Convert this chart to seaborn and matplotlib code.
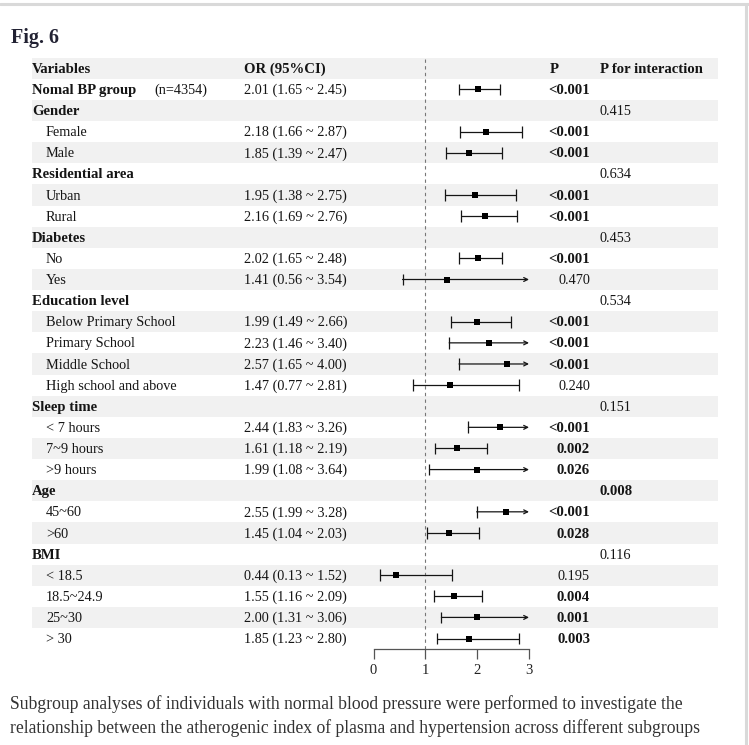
import numpy as np
import matplotlib
matplotlib.use("Agg")
import matplotlib.pyplot as plt
import matplotlib.transforms as mtransforms
from matplotlib.lines import Line2D
import seaborn as sns

# ---- data ----
row_labels = [
    "Nomal BP group", "Gender", "Female", "Male", "Residential area", "Urban", "Rural",
    "Diabetes", "No", "Yes", "Education level", "Below Primary School", "Primary School",
    "Middle School", "High school and above", "Sleep time", "< 7 hours", "7~9 hours",
    ">9 hours", "Age", "45~60", ">60", "BMI", "< 18.5", "18.5~24.9", "25~30", "> 30",
]
is_group = [True, True, False, False, True, False, False, True, False, False, True, False,
            False, False, False, True, False, False, False, True, False, False, True, False,
            False, False, False]
or_values = [2.01, np.nan, 2.18, 1.85, np.nan, 1.95, 2.16, np.nan, 2.02, 1.41, np.nan, 1.99,
             2.23, 2.57, 1.47, np.nan, 2.44, 1.61, 1.99, np.nan, 2.55, 1.45, np.nan, 0.44,
             1.55, 2.00, 1.85]
ci_low = [1.65, np.nan, 1.66, 1.39, np.nan, 1.38, 1.69, np.nan, 1.65, 0.56, np.nan, 1.49,
          1.46, 1.65, 0.77, np.nan, 1.83, 1.18, 1.08, np.nan, 1.99, 1.04, np.nan, 0.13,
          1.16, 1.31, 1.23]
ci_high = [2.45, np.nan, 2.87, 2.47, np.nan, 2.75, 2.76, np.nan, 2.48, 3.54, np.nan, 2.66,
           3.40, 4.00, 2.81, np.nan, 3.26, 2.19, 3.64, np.nan, 3.28, 2.03, np.nan, 1.52,
           2.09, 3.06, 2.80]
p_values = ["<0.001", "", "<0.001", "<0.001", "", "<0.001", "<0.001", "", "<0.001", "0.470",
            "", "<0.001", "<0.001", "<0.001", "0.240", "", "<0.001", "0.002", "0.026", "",
            "<0.001", "0.028", "", "0.195", "0.004", "0.001", "0.003"]
p_interaction = ["", "0.415", "", "", "0.634", "", "", "0.453", "", "", "0.534", "", "", "",
                 "", "0.151", "", "", "", "0.008", "", "", "0.116", "", "", "", ""]
x_ticks = [0, 1, 2, 3]
x_max = 3
caption = ("Subgroup analyses of individuals with normal blood pressure were performed to investigate the\n"
           "relationship between the atherogenic index of plasma and hypertension across different subgroups")

sns.set_style("white")
plt.rcParams["font.family"] = ["Liberation Serif", "DejaVu Serif"]

W, H = 749, 745
fig = plt.figure(figsize=(W / 100, H / 100), dpi=100)

row_h = 21.12
top_px = 68.3 - row_h / 2
n_rows = len(row_labels) + 1  # header + rows
bottom_px = top_px + n_rows * row_h
x0_px, x3_px = 373.5, 529.0
ax = fig.add_axes([x0_px / W, 1 - bottom_px / H, (x3_px - x0_px) / W, (bottom_px - top_px) / H])
ax.set_facecolor("none")
ax.set_xlim(0, x_max)
ax.set_ylim(n_rows - 0.5, -0.5)

ink = "#151515"
span_left = (32 - x0_px) / (x3_px - x0_px)
span_right = (718 - x0_px) / (x3_px - x0_px)
for i in range(0, n_rows, 2):
    band = ax.axhspan(i - 0.5, i + 0.5, xmin=span_left, xmax=span_right,
                      color="#f1f1f1", lw=0, zorder=0)
    band.set_clip_on(False)

ax.axvline(1, color="#777777", lw=0.8, ls=(0, (3, 3)), zorder=1)

rows = np.arange(1, n_rows)
df_or = np.array(or_values)
lo = np.array(ci_low)
hi = np.array(ci_high)
cap = 0.28
for y, l, h in zip(rows, lo, hi):
    if np.isnan(l):
        continue
    ax.vlines(l, y - cap, y + cap, color=ink, lw=0.9, zorder=2)
    if h <= x_max:
        ax.hlines(y, l, h, color=ink, lw=0.9, zorder=2)
        ax.vlines(h, y - cap, y + cap, color=ink, lw=0.9, zorder=2)
    else:
        ax.annotate("", xy=(x_max, y), xytext=(l, y), annotation_clip=False,
                    arrowprops=dict(arrowstyle="->", lw=0.9, color=ink,
                                    shrinkA=0, shrinkB=0, mutation_scale=7))

mask = ~np.isnan(df_or)
sns.scatterplot(x=df_or[mask], y=rows[mask], marker="s", s=24, color="black",
                edgecolor="black", linewidth=0, ax=ax, zorder=3, clip_on=False)

for side in ["left", "top", "right"]:
    ax.spines[side].set_visible(False)
ax.spines["bottom"].set_color("#555555")
ax.spines["bottom"].set_linewidth(0.9)
ax.set_yticks([])
ax.set_xticks(x_ticks)
ax.set_xticklabels([str(t) for t in x_ticks])
ax.tick_params(axis="x", bottom=True, direction="out", length=7, width=0.9, color="#555555",
               labelsize=10.5, labelcolor="#222222", pad=4)
ax.set_xlabel("")
ax.set_ylabel("")

# ---- table text ----
tr = mtransforms.offset_copy(
    mtransforms.blended_transform_factory(fig.transFigure, ax.transData),
    fig=fig, y=-3.3, units="points")
fs = 10.3
fs_bold = 10.6


def put(xpx, y, s, bold=False, ha="left"):
    ax.text(xpx / W, y, s, transform=tr, ha=ha, va="baseline",
            fontsize=fs_bold if bold else fs,
            fontweight="bold" if bold else "normal", color=ink, clip_on=False)


put(32, 0, "Variables", bold=True)
put(244, 0, "OR (95%CI)", bold=True)
put(550, 0, "P", bold=True)
put(600, 0, "P for interaction", bold=True)

for i, y in enumerate(rows):
    put(32 if is_group[i] else 46, y, row_labels[i], bold=is_group[i])
    if not np.isnan(or_values[i]):
        put(244, y, f"{or_values[i]:.2f} ({ci_low[i]:.2f} ~ {ci_high[i]:.2f})")
    p = p_values[i]
    if p:
        sig = p.startswith("<") or float(p) < 0.05
        put(590, y, p, bold=sig, ha="right")
    pi = p_interaction[i]
    if pi:
        put(600, y, pi, bold=float(pi) < 0.05)
put(154, 1, "(n=4354)")

fig.text(11 / W, 1 - 38 / H, "Fig. 6", fontsize=14.5, fontweight="bold", color="#222233",
         ha="left", va="center")
fig.text(10 / W, 1 - 716 / H, caption, fontsize=12.7, color="#333333", ha="left",
         va="center", linespacing=1.45)

fig.add_artist(Line2D([0, 1], [1 - 4 / H, 1 - 4 / H], transform=fig.transFigure,
                      color="#d9d9d9", lw=2.2))
fig.add_artist(Line2D([1 - 3 / W, 1 - 3 / W], [0, 1 - 4 / H], transform=fig.transFigure,
                      color="#d9d9d9", lw=2.2))

fig.savefig("out.png", dpi=100)
plt.close(fig)
